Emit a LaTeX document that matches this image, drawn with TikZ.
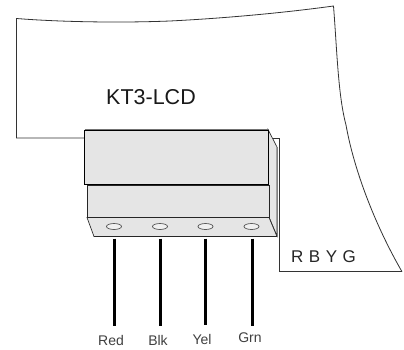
\documentclass[tikz,border=0pt]{standalone}
\usepackage{fontspec}
\setmainfont{Liberation Sans}
\usetikzlibrary{shapes.geometric}
\tikzset{
  x=1pt,y=-1pt,
  outline/.style={draw=black!80,line width=0.8pt,line join=miter},
  face/.style={draw=black!85,line width=0.65pt,fill=black!10},
  hole/.style={ellipse,draw=black!65,line width=0.7pt,fill=black!6,minimum width=15pt,minimum height=6pt,inner sep=0pt},
  wire/.style={line width=3pt,black},
  lbl/.style={inner sep=0pt,text=black!75,font=\fontsize{14}{16}\selectfont}
}
\begin{document}
\begin{tikzpicture}
\useasboundingbox (0,0) rectangle (404,350);
\fill[white] (0,0) rectangle (404,350);
% paper outline
\draw[outline] (84,138) -- (16.5,138) -- (16.5,18.5)
  .. controls (60,22) and (120,23) .. (170,21)
  .. controls (230,18) and (290,12) .. (333.5,6)
  .. controls (337,50) and (338,95) .. (346,125)
  .. controls (354,170) and (375,225) .. (402,271.7);
\draw[outline] (402,271.7) -- (279.5,271.7) -- (279.5,138) -- (268,138);
% terminal block
\draw[face] (268,129.5) -- (277,147) -- (277,236) -- (269,217) -- cycle;
\draw[black!50,line width=1pt] (277,147) -- (277,236);
\draw[face] (87,185) rectangle (269,217.5);
\draw[face] (87,217.5) -- (269,217.5) -- (277,236.5) -- (94,236.5) -- cycle;
\draw[face,draw=black] (84.5,130) rectangle (268.5,184.5);
\draw[black!55,line width=1.2pt] (84.5,129.7) -- (268.5,129.7);
% holes
\node[hole] (h1) at (114,226.5) {};
\node[hole] (h2) at (160,226.5) {};
\node[hole] (h3) at (205.5,226.5) {};
\node[hole] (h4) at (251.5,226.5) {};
% wires
\coordinate (e1) at (114,326);
\coordinate (e2) at (160,326);
\coordinate (e3) at (205.5,325);
\coordinate (e4) at (252,326);
\draw[wire] (114,238.5) -- (e1);
\draw[wire] (160,238.5) -- (e2);
\draw[wire] (205.5,238.5) -- (e3);
\draw[wire] (252,238.5) -- (e4);
% text
\node[lbl,font=\fontsize{21.5}{24}\selectfont,text=black!90] (title) at (151,97) {KT3-LCD};
\node[lbl,font=\fontsize{17}{20}\selectfont,text=black!85] (rbyg) at (323.5,257) {R\hspace{0.8pt} B\hspace{0.8pt} Y\hspace{0.8pt} G};
\node[lbl] (l1) at (111,340) {Red};
\node[lbl] (l2) at (158,340) {Blk};
\node[lbl] (l3) at (202,339) {Yel};
\node[lbl] (l4) at (250,338) {Grn};
\end{tikzpicture}
\end{document}
